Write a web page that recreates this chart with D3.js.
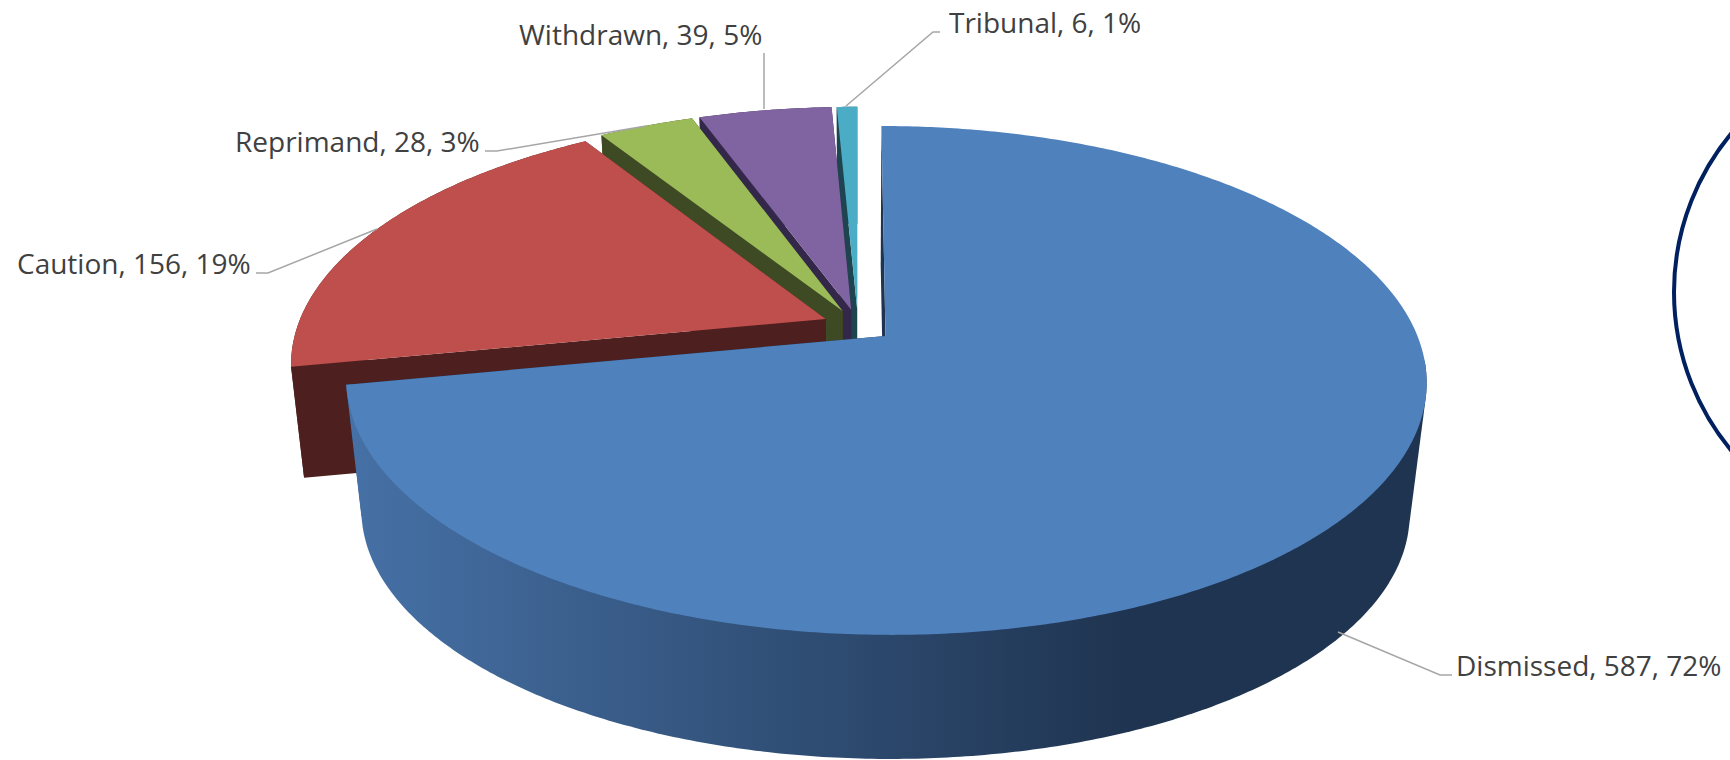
<!DOCTYPE html>
<html>
<head>
<meta charset="utf-8">
<script src="https://cdn.jsdelivr.net/npm/d3@7/dist/d3.min.js"></script>
<style>
html,body{margin:0;padding:0;background:#fff;overflow:hidden}
text{font-family:"Open Sans",sans-serif;font-size:28px;fill:#404040}
</style>
</head>
<body>
<svg id="chart" width="1730" height="760"></svg>
<script>
const categories = ["Dismissed", "Caution", "Reprimand", "Withdrawn", "Tribunal"];
const values = [587, 156, 28, 39, 6];
const topColors = ["#4F81BD", "#BE4F4C", "#9BBB59", "#8064A2", "#4BACC6"];
const wallColors = ["#1F3450", "#4D1F1E", "#3E4A23", "#33284A", "#1E4450"];
const labelAnchors = [[1456, 676], [17, 274], [235, 151.5], [519, 45], [949, 33]];
const leaders = [
  [[1338, 632], [1440, 675], [1452, 675]],
  [[256, 273], [268, 273], [377, 229]],
  [[485, 151], [497, 151], [646, 126]],
  [[764, 53], [764, 109]],
  [[940, 32], [933, 32], [846, 106]]
];

// projection of the tilted pie
const cx = 858, cy = 325.5, A = 528, B = 243, K = 0.1737, EXPLODE = 0.067;
const wallScale = [0.97, 0.977, 0.977, 0.977, 0.977];
const wallVanishY = [4770, 5191, 5191, 5191, 5191];
function project(X, Y) {
  const w = 1 - K * Y;
  return [cx + A * X / w, cy + B * Y / w];
}
function drop(p, i) {
  const s = wallScale[i], vy = wallVanishY[i];
  return [cx + s * (p[0] - cx), vy + s * (p[1] - vy)];
}

const svg = d3.select("#chart");
const defs = svg.append("defs");
const grad = defs.append("linearGradient").attr("id", "blueWall")
  .attr("gradientUnits", "userSpaceOnUse").attr("x1", 350).attr("x2", 1130).attr("y1", 0).attr("y2", 0);
grad.append("stop").attr("offset", 0).attr("stop-color", "#4671A6");
grad.append("stop").attr("offset", 1).attr("stop-color", "#1F3450");

const total = d3.sum(values);
const pie = d3.pie().sort(null)(values);
const line = d3.line();

// slices painted back to front: the largest, front slice comes last
const order = [4, 3, 2, 1, 0];
const g = svg.append("g");
order.forEach(i => {
  const a = pie[i];
  const mid = (a.startAngle + a.endAngle) / 2;
  const ox = EXPLODE * Math.sin(mid), oy = -EXPLODE * Math.cos(mid);
  const steps = Math.max(4, Math.ceil((a.endAngle - a.startAngle) / 0.01));
  const angles = d3.range(steps + 1).map(s => a.startAngle + (a.endAngle - a.startAngle) * s / steps);
  const topRim = angles.map(t => project(ox + Math.sin(t), oy - Math.cos(t)));
  const botRim = topRim.map(p => drop(p, i));
  const apexTop = project(ox, oy), apexBot = drop(apexTop, i);

  // radial walls
  g.append("path").attr("fill", wallColors[i])
    .attr("d", line([apexTop, topRim[0], botRim[0], apexBot]) + "Z");
  g.append("path").attr("fill", wallColors[i])
    .attr("d", line([apexTop, topRim[steps], botRim[steps], apexBot]) + "Z");
  // outer wall: the large front slice takes the hull of its two front rims,
  // which gives the straight silhouette running from the top rim to the bottom rim
  if (i === 0) {
    const front = angles.map((t, k) => k).filter(k => angles[k] > Math.PI * 0.53);
    const hull = d3.polygonHull(front.map(k => topRim[k]).concat(front.map(k => botRim[k])));
    g.append("path").attr("fill", "url(#blueWall)").attr("d", line(hull) + "Z");
  } else {
    g.append("path").attr("fill", wallColors[i])
      .attr("d", line(topRim.concat(botRim.slice().reverse())) + "Z");
  }
  // top face
  g.append("path").attr("fill", topColors[i])
    .attr("d", line([apexTop].concat(topRim)) + "Z");
});

// leader lines
svg.append("g").selectAll("path").data(leaders).join("path")
  .attr("d", d => line(d)).attr("fill", "none").attr("stroke", "#A6A6A6").attr("stroke-width", 1.5);

// data labels
svg.append("g").selectAll("text").data(categories).join("text")
  .attr("x", (d, i) => labelAnchors[i][0]).attr("y", (d, i) => labelAnchors[i][1])
  .text((d, i) => `${d}, ${values[i]}, ${Math.round(values[i] / total * 100)}%`);

// navy circle cut off by the right edge
svg.append("circle").attr("cx", 1922).attr("cy", 292).attr("r", 248)
  .attr("fill", "none").attr("stroke", "#002060").attr("stroke-width", 4);
</script>
</body>
</html>
